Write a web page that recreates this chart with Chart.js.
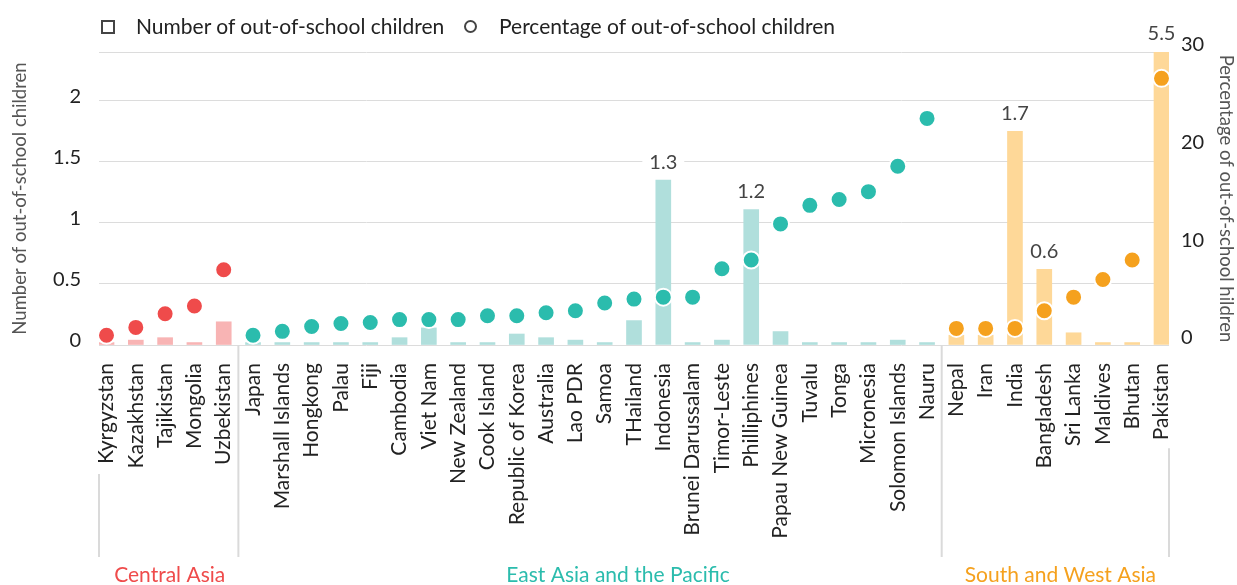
<!DOCTYPE html>
<html>
<head>
<meta charset="utf-8">
<title>Out-of-school children</title>
<script src="https://cdn.jsdelivr.net/npm/chart.js@4.4.1/dist/chart.umd.min.js"></script>
<style>
    body { margin: 0; background: #fff; font-family: Lato, sans-serif; }
    #wrap { position: relative; width: 1237px; height: 585px; }
    #legend { position: absolute; top: 0; left: 0; font-size: 21px; color: #222; line-height: 26px; }
    #legend span { position: absolute; white-space: nowrap; }
    .box { width: 10px; height: 10px; border: 2.5px solid #444; }
    .dot { width: 9px; height: 9px; border: 2.5px solid #444; border-radius: 50%; }
</style>
</head>
<body>
<div id="wrap">
    <canvas id="chart" width="1237" height="585"></canvas>
    <div id="legend">
        <span class="box" style="left:101px; top:20px;"></span>
        <span style="left:136px; top:13px;">Number of out-of-school children</span>
        <span class="dot" style="left:464px; top:20px;"></span>
        <span style="left:499px; top:13px;">Percentage of out-of-school children</span>
    </div>
</div>
<script>
// Países (ordem do gráfico)
const categories = [
    'Kyrgyzstan', 'Kazakhstan', 'Tajikistan', 'Mongolia', 'Uzbekistan',
    'Japan', 'Marshall Islands', 'Hongkong', 'Palau', 'Fiji', 'Cambodia', 'Viet Nam',
    'New Zealand', 'Cook Island', 'Republic of Korea', 'Australia', 'Lao PDR', 'Samoa',
    'THailand', 'Indonesia', 'Brunei Darussalam', 'Timor-Leste', 'Philliphines',
    'Papau New Guinea', 'Tuvalu', 'Tonga', 'Micronesia', 'Solomon Islands', 'Nauru',
    'Nepal', 'Iran', 'India', 'Bangladesh', 'Sri Lanka', 'Maldives', 'Bhutan', 'Pakistan'
];

// Região de cada país
const regions = ['Central Asia', 'East Asia and the Pacific', 'South and West Asia'];
const regionOf = [
    0, 0, 0, 0, 0,
    1, 1, 1, 1, 1, 1, 1, 1, 1, 1, 1, 1, 1, 1, 1, 1, 1, 1, 1, 1, 1, 1, 1, 1,
    2, 2, 2, 2, 2, 2, 2, 2
];

// Número de crianças fora da escola (milhões) - eixo esquerdo
const childrenMillions = [
    0.02, 0.04, 0.06, 0.02, 0.19,
    0.02, 0.02, 0.02, 0.02, 0.02, 0.06, 0.14, 0.02, 0.02, 0.09, 0.06, 0.04, 0.02,
    0.2, 1.35, 0.02, 0.04, 1.11, 0.11, 0.02, 0.02, 0.02, 0.04, 0.02,
    0.08, 0.08, 1.75, 0.62, 0.1, 0.02, 0.02, 5.5
];

// Percentagem de crianças fora da escola - eixo direito
const percentOut = [
    1.0, 1.8, 3.2, 4.0, 7.7,
    1.0, 1.4, 1.9, 2.2, 2.3, 2.6, 2.6, 2.6, 3.0, 3.0, 3.3, 3.5, 4.3,
    4.7, 4.9, 4.9, 7.8, 8.7, 12.4, 14.3, 14.9, 15.7, 18.3, 23.2,
    1.7, 1.7, 1.7, 3.5, 4.9, 6.7, 8.7, 27.3
];

// Rótulos sobre as barras maiores
const barLabels = [
    '', '', '', '', '',
    '', '', '', '', '', '', '', '', '', '', '', '', '',
    '', '1.3', '', '', '1.2', '', '', '', '', '', '',
    '', '', '1.7', '0.6', '', '', '', '5.5'
];

// Cores por região
const dotColors = ['#ef4b4b', '#2bbcad', '#f5a11e'];
const barColors = ['#f8b4b4', '#b0dfdc', '#fed898'];
const labelShift = [1, 28, 5];

Chart.defaults.font.family = 'Lato, sans-serif';
Chart.defaults.color = '#222';

// Rótulos, separadores e nomes das regiões
const overlayPlugin = {
    id: 'overlay',
    afterDatasetsDraw(chart) {
        const { ctx, chartArea, scales } = chart;
        const xs = scales.x;
        const ys = scales.y;
        ctx.save();

        ctx.font = '20px Lato';
        ctx.textAlign = 'center';
        ctx.textBaseline = 'middle';
        barLabels.forEach((t, i) => {
            if (!t) return;
            const px = xs.getPixelForValue(i);
            const top = Math.max(ys.getPixelForValue(childrenMillions[i]), chartArea.top);
            const py = top - 18;
            const w = ctx.measureText(t).width + 14;
            ctx.fillStyle = '#fff';
            ctx.fillRect(px - w / 2, py - 10, w, 20);
            ctx.fillStyle = '#444';
            ctx.fillText(t, px, py);
        });

        // linhas entre regiões
        const lineEnd = 557;
        ctx.strokeStyle = '#dadada';
        ctx.lineWidth = 2;
        regions.forEach((r, g) => {
            const idx = categories.map((c, i) => i).filter(i => regionOf[i] === g);
            const first = idx[0];
            const last = idx[idx.length - 1];
            const left = first === 0 ? chartArea.left : xs.getPixelForValue(first - 0.5);
            const right = last === categories.length - 1 ? chartArea.right : xs.getPixelForValue(last + 0.5);

            ctx.font = '21px Lato';
            if (first === 0) {
                const y0 = chartArea.bottom + 12 + ctx.measureText(categories[0]).width + 16;
                ctx.beginPath(); ctx.moveTo(left, y0); ctx.lineTo(left, lineEnd); ctx.stroke();
            } else {
                ctx.beginPath(); ctx.moveTo(left, chartArea.bottom); ctx.lineTo(left, lineEnd); ctx.stroke();
            }
            if (last === categories.length - 1) {
                const y0 = chartArea.bottom + 12 + ctx.measureText(categories[last]).width + 14;
                ctx.beginPath(); ctx.moveTo(right, y0); ctx.lineTo(right, lineEnd); ctx.stroke();
            }

            ctx.fillStyle = dotColors[g];
            ctx.fillText(r, (left + right) / 2 + labelShift[g], 575);
        });
        ctx.restore();
    }
};

const ctx = document.getElementById('chart').getContext('2d');
new Chart(ctx, {
    data: {
        datasets: [
            {
                type: 'line',
                label: 'Percentage of out-of-school children',
                data: percentOut.map((v, i) => ({ x: i, y: v })),
                yAxisID: 'y1',
                showLine: false,
                pointRadius: 8.5,
                pointBorderWidth: 2,
                pointBorderColor: '#fff',
                pointBackgroundColor: regionOf.map(g => dotColors[g]),
                order: 0
            },
            {
                type: 'bar',
                label: 'Number of out-of-school children',
                data: childrenMillions.map((v, i) => ({ x: i, y: v })),
                yAxisID: 'y',
                barThickness: 15,
                backgroundColor: regionOf.map(g => barColors[g]),
                order: 1
            }
        ]
    },
    options: {
        responsive: false,
        animation: false,
        events: [],
        layout: { padding: { top: 52 } },
        plugins: {
            legend: { display: false },
            tooltip: { enabled: false }
        },
        scales: {
            x: {
                type: 'linear',
                offset: false,
                min: -0.256,
                max: 36.256,
                grid: { display: false, offset: false },
                border: { display: false },
                afterBuildTicks: s => { s.ticks = categories.map((c, i) => ({ value: i })); },
                afterFit: s => { s.height = 240; },
                ticks: {
                    autoSkip: false,
                    minRotation: 90,
                    maxRotation: 90,
                    padding: 10,
                    color: '#222',
                    font: { size: 21 },
                    callback: v => categories[v]
                }
            },
            y: {
                position: 'left',
                min: 0,
                max: 2.4,
                afterFit: s => { s.width = 99; },
                grid: { color: '#dcdcdc', drawTicks: false },
                border: { display: false },
                ticks: {
                    stepSize: 0.5,
                    padding: 18,
                    labelOffset: -4,
                    color: '#222',
                    font: { size: 20 },
                    callback: v => (v > 2.3 ? '' : v)
                },
                title: {
                    display: true,
                    text: 'Number of out-of-school children',
                    color: '#555',
                    font: { size: 18.5 },
                    padding: { top: 9, bottom: 0 }
                }
            },
            y1: {
                position: 'right',
                min: 0,
                max: 30,
                afterFit: s => { s.width = 68; },
                grid: { display: false, drawTicks: false },
                border: { display: false },
                ticks: {
                    stepSize: 10,
                    padding: 12,
                    labelOffset: -7,
                    color: '#222',
                    font: { size: 20 }
                },
                title: {
                    display: true,
                    text: 'Percentage of out-of-school hildren',
                    color: '#555',
                    font: { size: 18.5 },
                    padding: { top: 0, bottom: 0 }
                }
            }
        }
    },
    plugins: [overlayPlugin]
});
</script>
</body>
</html>
